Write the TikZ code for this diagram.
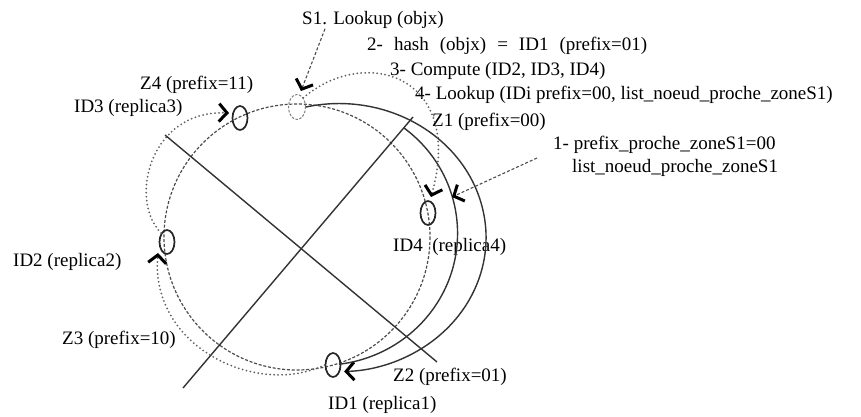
\documentclass[tikz,border=0pt]{standalone}
\usepackage{fontspec}
\setmainfont{Liberation Serif}
\usetikzlibrary{arrows.meta,calc,shapes.geometric}
\begin{document}
\begin{tikzpicture}[x=1pt,y=-1pt,
  lbl/.style={anchor=west,inner sep=0pt,font=\fontsize{19}{22}\selectfont,text=black},
  idnode/.style={ellipse,draw=black!85,line width=1.7pt,minimum width=15pt,minimum height=24pt,inner sep=0pt},
  s1node/.style={ellipse,draw=black!50,dash pattern=on 2.5pt off 1.5pt,line width=1pt,minimum width=17pt,minimum height=25pt,inner sep=0pt},
  ring/.style={draw=black!70,line width=1.2pt,dash pattern=on 3pt off 1.8pt},
  solidarc/.style={draw=black!80,line width=1.4pt},
  dotline/.style={draw=black!62,line width=2pt,dash pattern=on 0pt off 4pt,line cap=round},
  chev/.style={-{Straight Barb[length=8pt,width=18pt,line width=3pt,color=black]}},
  ptr/.style={draw=black!70,line width=1.1pt,dash pattern=on 3pt off 2pt},
]
\useasboundingbox (0,0) rectangle (861,417);

% ring of the DHT
\draw[ring] (297,237) circle[radius=133];

% zone separators
\coordinate (la) at (413,117);
\coordinate (lb) at (183,388);
\coordinate (lc) at (165,135);
\coordinate (ld) at (437,362);
\draw[solidarc] (la) -- (lb);
\draw[solidarc] (lc) -- (ld);

% node ellipses
\node[s1node] (s1) at (297,107) {};
\node[idnode] (id3) at (240,118) {};
\node[idnode] (id2) at (167,242) {};
\node[idnode] (id1) at (333,365) {};
\node[idnode] (id4) at (428,213) {};

% labels
\node[lbl] (s1lbl) at (302,20) {S1. Lookup (objx)};
\node[lbl] (l2) at (367,46) {\spaceskip=11pt 2- hash (objx) = ID1 (prefix=01)};
\node[lbl] (l3) at (390,71) {3- Compute (ID2, ID3, ID4)};
\node[lbl] (l4) at (415,95) {4- Lookup (IDi prefix=00, list\_noeud\_proche\_zoneS1)};
\node[lbl] (z1) at (432,122) {Z1 (prefix=00)};
\node[lbl] (l1) at (553,145) {1- prefix\_proche\_zoneS1=00};
\node[lbl] (l1b) at (572,168) {list\_noeud\_proche\_zoneS1};
\node[lbl] (z4) at (140,85) {Z4 (prefix=11)};
\node[lbl] (id3lbl) at (74,108) {ID3 (replica3)};
\node[lbl] (id2lbl) at (13,262) {ID2 (replica2)};
\node[lbl] (id4lbl) at (393,247) {ID4\ \ (replica4)};
\node[lbl] (z3) at (62,340) {Z3 (prefix=10)};
\node[lbl] (z2) at (393,377) {Z2 (prefix=01)};
\node[lbl] (id1lbl) at (328,405) {ID1 (replica1)};

% arrow tips
\coordinate (ts1) at (301,91);
\coordinate (t4) at (431,197);
\coordinate (t2) at (158,253);
\coordinate (t3) at (229,113);
\coordinate (tp1) at (452,197);

% solid arcs: S1 -> ID1 (outer), inner arc from separator to ID1
\draw[solidarc,chev] (s1.east) arc[start angle=-103,end angle=88,x radius=147,y radius=134];
\draw[solidarc] ($(la)!0.04!(lb)$) arc[start angle=-53,end angle=83,x radius=135,y radius=132];

% dotted replication arrows
\draw[dotline,chev] (s1.north east) .. controls (365,45) and (465,75) .. (t4);
\draw[dotline,chev] (id1.west) .. controls (255,398) and (150,345) .. (t2);
\draw[dotline,chev] (id2.north west) .. controls (128,200) and (150,110) .. (t3);

% pointer arrows
\draw[ptr,chev] ([xshift=23pt]s1lbl.south west) -- (ts1);
\draw[ptr,chev] ($(l1.west)+(-16,13)$) -- (tp1);
\end{tikzpicture}
\end{document}
